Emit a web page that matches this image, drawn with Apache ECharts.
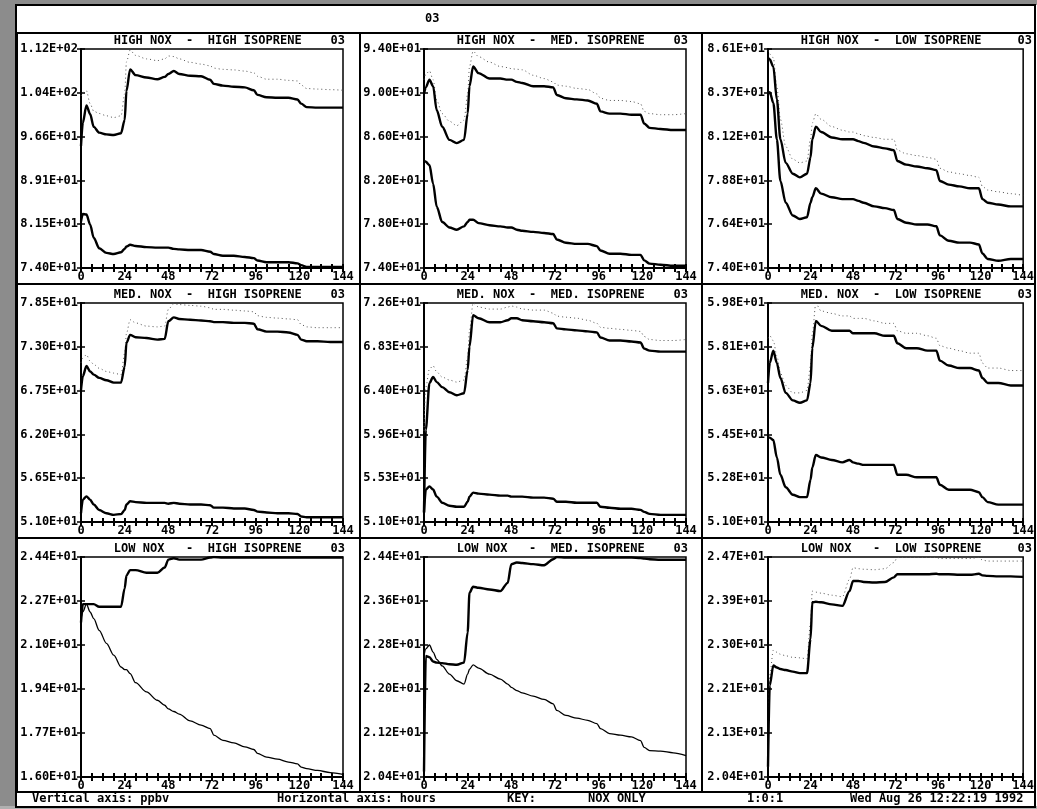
<!DOCTYPE html>
<html>
<head>
<meta charset="utf-8">
<script src="https://cdn.jsdelivr.net/npm/echarts@6/dist/echarts.min.js"></script>
<style>
  html, body { margin: 0; padding: 0; background: #fff; }
  #main { width: 1037px; height: 809px; }
</style>
</head>
<body>
<div id="main"></div>
<script>
// hours shared by every curve
const HOURS = [0,1,3,5,7,10,14,18,22,24,25,27,30,36,42,46,48,51,54,60,66,71,73,78,84,90,95,97,102,108,114,119,121,124,130,137,144];
const X_LABELS = [0, 24, 48, 72, 96, 120, 144];

// y axis ranges per panel (row by row)
const Y_MIN = [74.0, 74.0, 74.0, 51.0, 51.0, 51.0, 16.0, 20.4, 20.4];
const Y_MAX = [111.7, 94.0, 86.08, 78.5, 72.6, 59.82, 24.4, 24.4, 24.72];

const NOX = ['HIGH NOX', 'MED. NOX', 'LOW NOX'];
const ISOPRENE = ['HIGH ISOPRENE', 'MED. ISOPRENE', 'LOW ISOPRENE'];

// high nox
const P1_DOT = [103.6,104.2,104.5,102.3,101.0,100.6,100.2,99.9,100.2,104.0,109.5,111.5,110.6,110.0,109.7,110.0,110.5,110.4,110.0,109.4,109.1,108.8,108.4,108.2,108.1,107.9,107.6,107.0,106.5,106.5,106.3,106.2,105.5,104.9,104.8,104.7,104.6];
const P1_MID = [95.0,99.0,102.0,100.5,98.3,97.3,97.0,96.9,97.2,99.5,104.5,108.2,107.2,106.8,106.5,106.9,107.4,107.9,107.4,107.1,107.0,106.4,105.7,105.4,105.2,105.1,104.6,103.8,103.4,103.3,103.3,103.0,102.3,101.7,101.6,101.6,101.6];
const P1_LOW = [82.0,83.3,83.2,81.5,79.2,77.4,76.6,76.4,76.7,77.3,77.7,78.0,77.8,77.6,77.5,77.5,77.5,77.3,77.2,77.1,77.1,76.8,76.4,76.1,76.1,75.9,75.7,75.3,75.0,75.0,75.0,74.8,74.5,74.2,74.2,74.2,74.2];

const P2_DOT = [91.2,91.7,92.0,91.2,89.3,88.1,87.4,87.0,87.5,89.9,92.4,93.8,93.3,92.8,92.4,92.3,92.2,92.15,92.1,91.6,91.3,91.0,90.7,90.6,90.4,90.3,89.9,89.5,89.3,89.3,89.2,89.0,88.3,88.1,88.0,88.0,88.1];
const P2_MID = [89.9,90.5,91.2,90.6,88.4,86.9,85.7,85.4,85.7,88.1,90.6,92.4,91.8,91.3,91.3,91.2,91.2,91.0,90.9,90.6,90.6,90.5,89.8,89.5,89.4,89.3,89.0,88.3,88.1,88.1,88.0,88.0,87.2,86.8,86.7,86.6,86.6];
const P2_LOW = [83.8,83.7,83.4,81.7,79.6,78.2,77.7,77.5,77.8,78.2,78.4,78.4,78.1,77.9,77.8,77.7,77.7,77.5,77.4,77.3,77.2,77.1,76.6,76.3,76.2,76.2,76.0,75.6,75.3,75.3,75.2,75.2,74.7,74.4,74.3,74.2,74.2];

const P3_DOT = [86.0,85.8,85.6,84.0,82.2,80.7,80.0,79.8,79.9,81.1,82.0,82.5,82.2,81.8,81.6,81.5,81.5,81.4,81.3,81.2,81.1,81.1,80.5,80.3,80.2,80.1,80.0,79.5,79.3,79.2,79.1,79.0,78.5,78.3,78.2,78.1,78.0];
const P3_MID = [85.6,85.5,85.1,83.3,81.1,79.8,79.2,79.0,79.2,80.1,81.1,81.8,81.5,81.2,81.1,81.1,81.1,81.0,80.9,80.7,80.6,80.5,79.9,79.7,79.6,79.5,79.4,78.8,78.6,78.5,78.4,78.4,77.8,77.6,77.5,77.4,77.4];
const P3_LOW = [83.6,83.7,83.1,81.1,78.8,77.6,76.9,76.7,76.8,77.6,77.9,78.4,78.1,77.9,77.8,77.8,77.8,77.7,77.6,77.4,77.3,77.2,76.7,76.5,76.4,76.4,76.3,75.8,75.5,75.4,75.4,75.3,74.8,74.5,74.4,74.5,74.5];

// med nox
const P4_DOT = [71.0,71.6,72.0,71.2,70.8,70.3,69.9,69.7,69.5,72.2,74.7,76.4,76.0,75.6,75.5,75.6,77.7,78.4,78.3,78.2,78.1,77.9,77.7,77.7,77.6,77.5,77.4,76.9,76.7,76.6,76.5,76.4,75.8,75.5,75.4,75.4,75.4];
const P4_MID = [67.6,69.3,70.6,69.9,69.5,69.1,68.8,68.5,68.5,70.5,73.5,74.5,74.2,74.1,73.9,74.0,76.2,76.7,76.5,76.4,76.3,76.2,76.1,76.1,76.0,76.0,75.9,75.2,74.9,74.9,74.8,74.5,73.9,73.7,73.7,73.6,73.6];
const P4_LOW = [52.1,53.8,54.2,53.8,53.2,52.5,52.1,51.9,52.0,52.5,53.2,53.6,53.5,53.4,53.4,53.4,53.3,53.4,53.3,53.2,53.2,53.1,52.8,52.8,52.7,52.7,52.5,52.3,52.2,52.1,52.1,52.0,51.7,51.6,51.6,51.6,51.6];

const P5_DOT = [60.0,64.3,66.1,66.4,65.8,65.3,65.0,64.8,65.0,67.3,69.9,72.6,72.2,72.0,72.0,72.2,72.3,72.2,72.0,71.9,71.9,71.6,71.3,71.2,71.1,70.9,70.6,70.2,70.1,70.0,69.9,69.8,69.3,69.0,68.9,68.9,69.0];
const P5_MID = [52.0,60.1,64.7,65.3,64.8,64.3,63.8,63.5,63.7,66.0,68.3,71.4,71.1,70.7,70.7,70.9,71.1,71.1,70.9,70.8,70.7,70.6,70.1,70.0,69.9,69.8,69.7,69.2,68.9,68.9,68.8,68.7,68.1,67.9,67.8,67.8,67.8];
const P5_LOW = [51.9,54.2,54.5,54.2,53.5,52.9,52.6,52.5,52.5,53.0,53.5,53.9,53.8,53.7,53.6,53.6,53.5,53.5,53.5,53.4,53.4,53.3,53.0,53.0,52.9,52.9,52.9,52.5,52.4,52.3,52.3,52.2,52.0,51.8,51.7,51.7,51.7];

const P6_DOT = [58.4,58.5,58.3,57.7,57.0,56.5,56.2,56.2,56.3,57.3,58.6,59.8,59.5,59.4,59.3,59.3,59.2,59.2,59.2,59.1,59.0,59.0,58.7,58.6,58.6,58.5,58.4,58.1,58.0,57.9,57.8,57.8,57.4,57.2,57.2,57.1,57.1];
const P6_MID = [56.6,57.4,57.9,57.4,56.8,56.2,55.9,55.8,55.9,56.6,58.0,59.1,58.9,58.7,58.7,58.7,58.6,58.6,58.6,58.6,58.5,58.5,58.2,58.0,58.0,57.9,57.9,57.5,57.3,57.2,57.2,57.1,56.8,56.6,56.6,56.5,56.5];
const P6_LOW = [54.4,54.4,54.3,53.6,52.9,52.4,52.1,52.0,52.0,52.7,53.2,53.7,53.6,53.5,53.4,53.5,53.4,53.35,53.3,53.3,53.3,53.3,52.9,52.9,52.8,52.8,52.8,52.5,52.3,52.3,52.3,52.2,52.0,51.8,51.7,51.7,51.7];

// low nox
const P7_UP = [21.9,22.6,22.6,22.6,22.6,22.5,22.5,22.5,22.5,23.2,23.7,23.9,23.9,23.8,23.8,24.0,24.3,24.35,24.3,24.3,24.3,24.38,24.4,24.38,24.38,24.38,24.38,24.38,24.38,24.38,24.38,24.38,24.38,24.38,24.38,24.38,24.38];
const P7_DOWN = [22.05,22.3,22.6,22.3,22.05,21.6,21.1,20.65,20.2,20.1,20.1,19.95,19.6,19.25,18.93,18.74,18.6,18.5,18.4,18.14,17.98,17.85,17.6,17.4,17.3,17.15,17.05,16.9,16.76,16.68,16.57,16.5,16.38,16.32,16.25,16.17,16.1];

const P8_UP = [20.5,22.6,22.58,22.5,22.48,22.47,22.45,22.44,22.48,23.03,23.75,23.86,23.84,23.81,23.78,23.93,24.27,24.3,24.29,24.27,24.25,24.36,24.4,24.39,24.39,24.39,24.39,24.39,24.39,24.39,24.39,24.38,24.37,24.36,24.35,24.35,24.35];
const P8_DOWN = [22.6,22.73,22.8,22.67,22.54,22.42,22.27,22.15,22.09,22.27,22.36,22.44,22.38,22.27,22.18,22.09,22.03,21.97,21.93,21.87,21.81,21.73,21.61,21.52,21.47,21.43,21.37,21.28,21.19,21.16,21.13,21.06,20.94,20.88,20.87,20.84,20.79];

const P9_DOT = [20.6,22.4,22.89,22.85,22.81,22.78,22.75,22.74,22.72,23.43,24.05,24.03,24.01,23.97,23.94,24.28,24.51,24.49,24.48,24.47,24.49,24.61,24.71,24.71,24.71,24.71,24.71,24.69,24.69,24.69,24.69,24.71,24.66,24.64,24.64,24.64,24.64];
const P9_MID = [20.6,22.2,22.59,22.55,22.52,22.5,22.47,22.44,22.44,23.11,23.83,23.84,23.83,23.79,23.76,24.05,24.25,24.25,24.23,24.22,24.23,24.32,24.38,24.38,24.38,24.38,24.39,24.38,24.38,24.37,24.37,24.39,24.36,24.35,24.34,24.34,24.33];

const CURVES = [
  [[P1_DOT, 'dot'], [P1_MID, 'thick'], [P1_LOW, 'thick']],
  [[P2_DOT, 'dot'], [P2_MID, 'thick'], [P2_LOW, 'thick']],
  [[P3_DOT, 'dot'], [P3_MID, 'thick'], [P3_LOW, 'thick']],
  [[P4_DOT, 'dot'], [P4_MID, 'thick'], [P4_LOW, 'thick']],
  [[P5_DOT, 'dot'], [P5_MID, 'thick'], [P5_LOW, 'thick']],
  [[P6_DOT, 'dot'], [P6_MID, 'thick'], [P6_LOW, 'thick']],
  [[P7_UP, 'thick'], [P7_DOWN, 'thin']],
  [[P8_UP, 'thick'], [P8_DOWN, 'thin']],
  [[P9_DOT, 'dot'], [P9_MID, 'thick']]
];

// layout
const W = 1037, H = 809;
const COL_L = [81, 424, 768];
const ROW_T = [49, 303, 557];
const PLOT_W = 262, PLOT_H = 219;
const COL_LINES = [17, 360, 702, 1035];
const ROW_LINES = [33, 284, 538, 792];
const MONO = 'DejaVu Sans Mono';

const LINE_STYLES = {
  dot:   { color: '#555', width: 1, type: [1, 3] },
  thick: { color: '#000', width: 2.4, type: 'solid' },
  thin:  { color: '#000', width: 1.3, type: 'solid' }
};

function sci(v) {
  const parts = v.toExponential(2).toUpperCase().split('E');
  const sign = parts[1][0] === '-' ? '-' : '+';
  const digits = parts[1].replace(/[+-]/, '');
  return parts[0] + 'E' + sign + (digits.length < 2 ? '0' + digits : digits);
}

const grids = [], xAxes = [], yAxes = [], series = [], titles = [];

titles.push({
  text: '03', left: 425, top: 13, padding: 0,
  textStyle: { fontFamily: MONO, fontSize: 12, fontWeight: 'bold', color: '#000' }
});

for (let r = 0; r < 3; r++) {
  for (let c = 0; c < 3; c++) {
    const i = r * 3 + c;
    const left = COL_L[c], top = ROW_T[r];
    const h = r === 2 ? PLOT_H + 1 : PLOT_H;
    grids.push({ left: left, top: top, width: PLOT_W, height: h,
      show: true, borderColor: '#000', borderWidth: 1.5, backgroundColor: 'transparent' });

    const noxTxt = NOX[r].padEnd(10, ' ');
    titles.push({
      text: noxTxt + '-  ' + ISOPRENE[c].padEnd(17, ' ') + '03',
      right: W - (left + PLOT_W) - 2, top: top - 14, padding: 0,
      textStyle: { fontFamily: MONO, fontSize: 12, fontWeight: 'bold', color: '#000' }
    });

    const yInt = (Y_MAX[i] - Y_MIN[i]) / 5;
    // main axes with labels
    xAxes.push({
      type: 'value', gridIndex: i, min: 0, max: 144, interval: 6,
      axisLine: { show: true, lineStyle: { color: '#000', width: 2 } },
      axisTick: { show: true, length: 4, lineStyle: { color: '#000', width: 2 } },
      axisLabel: {
        show: true, margin: 3, fontFamily: MONO, fontSize: 12, fontWeight: 'bold', color: '#000',
        formatter: v => (X_LABELS.indexOf(Math.round(v)) >= 0 ? String(Math.round(v)) : '')
      },
      splitLine: { show: false }
    });
    yAxes.push({
      type: 'value', gridIndex: i, min: Y_MIN[i], max: Y_MIN[i] + 5 * yInt, interval: yInt,
      axisLine: { show: true, lineStyle: { color: '#000', width: 2 } },
      axisTick: { show: true, length: 4, lineStyle: { color: '#000', width: 1.5 } },
      axisLabel: {
        show: true, margin: 3, fontFamily: MONO, fontSize: 12, fontWeight: 'bold', color: '#000',
        formatter: v => sci(v)
      },
      splitLine: { show: false }
    });

    CURVES[i].forEach(([vals, kind]) => {
      series.push({
        type: 'line', xAxisIndex: i, yAxisIndex: i,
        data: HOURS.map((hr, k) => [hr, vals[k]]),
        showSymbol: false, symbol: 'none',
        smooth: 0.3, smoothMonotone: 'x',
        lineStyle: LINE_STYLES[kind],
        z: kind === 'dot' ? 1 : 2,
        silent: true, animation: false
      });
    });
  }
}

// inside half of the '+' tick marks: duplicate axes with inside ticks only
const nGrid = grids.length;
for (let i = 0; i < nGrid; i++) {
  const yInt = (Y_MAX[i] - Y_MIN[i]) / 5;
  xAxes.push({
    type: 'value', gridIndex: i, min: 0, max: 144, interval: 6, position: 'bottom',
    axisLine: { show: false },
    axisTick: { show: true, inside: true, length: 4, lineStyle: { color: '#000', width: 2 } },
    axisLabel: { show: false }, splitLine: { show: false }
  });
  yAxes.push({
    type: 'value', gridIndex: i, min: Y_MIN[i], max: Y_MIN[i] + 5 * yInt, interval: yInt, position: 'left',
    axisLine: { show: false },
    axisTick: { show: true, inside: true, length: 4, lineStyle: { color: '#000', width: 1.5 } },
    axisLabel: { show: false }, splitLine: { show: false }
  });
}

// frame, hatched scan border and footer
const graphics = [
  { type: 'rect', shape: { x: 0, y: 0, width: W, height: 5 }, style: { fill: '#8c8c8c' }, silent: true },
  { type: 'rect', shape: { x: 0, y: 0, width: 15, height: H }, style: { fill: '#8c8c8c' }, silent: true },
  { type: 'rect', shape: { x: 0, y: 806, width: W, height: 3 }, style: { fill: '#b0b0b0' }, silent: true },
  { type: 'rect', shape: { x: 16, y: 5, width: 1019, height: 802 },
    style: { fill: 'none', stroke: '#000', lineWidth: 2 }, silent: true }
];
COL_LINES.forEach(x => graphics.push({ type: 'line', shape: { x1: x, y1: ROW_LINES[0], x2: x, y2: ROW_LINES[3] },
  style: { stroke: '#000', lineWidth: 2 }, silent: true }));
ROW_LINES.forEach(y => graphics.push({ type: 'line', shape: { x1: 16, y1: y, x2: 1035, y2: y },
  style: { stroke: '#000', lineWidth: 2 }, silent: true }));

const FOOTER = [
  ['Vertical axis: ppbv', 32],
  ['Horizontal axis: hours', 277],
  ['KEY:', 507],
  ['NOX ONLY', 588],
  ['1:0:1', 747],
  ['Wed Aug 26 12:22:19 1992', 850]
];
FOOTER.forEach(([t, x]) => graphics.push({
  type: 'text', left: x, top: 793, silent: true,
  style: { text: t, fill: '#000', font: 'bold 12px "DejaVu Sans Mono"' }
}));

const chart = echarts.init(document.getElementById('main'), null, { renderer: 'canvas' });
chart.setOption({
  backgroundColor: '#fff',
  animation: false,
  title: titles,
  grid: grids,
  xAxis: xAxes,
  yAxis: yAxes,
  series: series,
  graphic: graphics
});
</script>
</body>
</html>
